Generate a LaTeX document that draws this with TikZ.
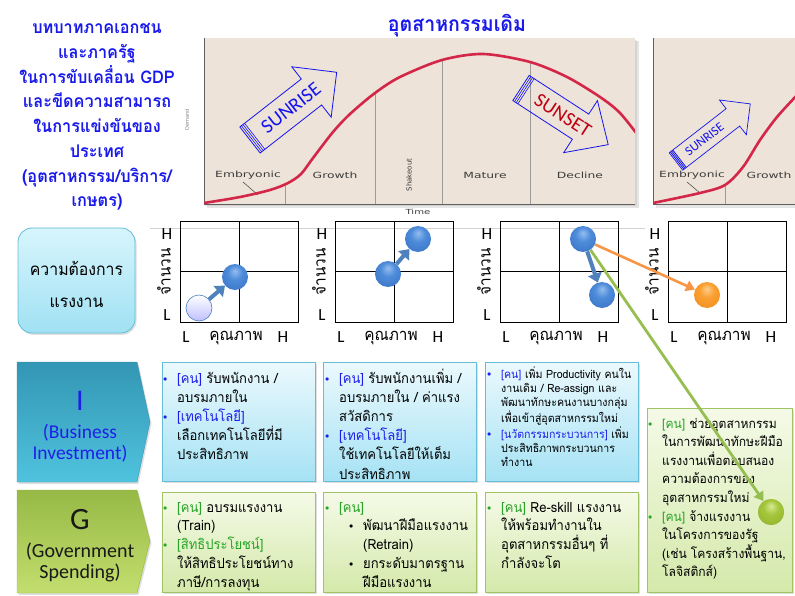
\documentclass[tikz,border=0pt]{standalone}
\usepackage{fontspec}
\setmainfont[Script=Thai,FakeStretch=0.93]{Loma}
\newfontfamily\calfont{Carlito}
\newfontfamily\chartfont[FakeStretch=1.45]{DejaVu Sans}
\newfontfamily\plainsans{DejaVu Sans}
\usetikzlibrary{shadows,arrows.meta,calc}

\definecolor{titleblue}{RGB}{25,25,235}
\definecolor{chartbg}{RGB}{237,227,216}
\definecolor{lifered}{RGB}{212,38,72}
\definecolor{phasegray}{RGB}{155,155,155}
\definecolor{labelgray}{RGB}{60,60,60}
\definecolor{sunblue}{RGB}{20,20,240}
\definecolor{sunred}{RGB}{190,0,20}
\definecolor{arrowblue}{RGB}{79,129,189}
\definecolor{linegreen}{RGB}{150,190,80}
\definecolor{lineorange}{RGB}{247,150,70}
\definecolor{kblue}{RGB}{30,30,235}
\definecolor{kgreen}{RGB}{40,165,40}
\definecolor{iborder}{RGB}{100,190,215}
\definecolor{itop}{RGB}{235,249,253}
\definecolor{ibottom}{RGB}{165,226,244}
\definecolor{gborder}{RGB}{160,195,100}
\definecolor{gtop}{RGB}{245,250,232}
\definecolor{gbottom}{RGB}{212,233,170}
\definecolor{chevItop}{RGB}{50,150,180}
\definecolor{chevIbot}{RGB}{80,195,222}
\definecolor{chevGtop}{RGB}{150,185,70}
\definecolor{chevGbot}{RGB}{195,222,110}
\definecolor{demtop}{RGB}{215,245,252}
\definecolor{dembot}{RGB}{160,225,243}

% glossy spheres: light spot near the top, darker rim
\pgfdeclareradialshading{sphereblue}{\pgfpoint{0bp}{12bp}}{color(0bp)=(rgb,255:red,150;green,190;blue,240); color(14bp)=(rgb,255:red,78;green,140;blue,218); color(42bp)=(rgb,255:red,52;green,108;blue,190); color(52bp)=(rgb,255:red,35;green,80;blue,150)}
\pgfdeclareradialshading{sphereorange}{\pgfpoint{0bp}{12bp}}{color(0bp)=(rgb,255:red,255;green,205;blue,140); color(14bp)=(rgb,255:red,250;green,160;blue,50); color(42bp)=(rgb,255:red,240;green,135;blue,25); color(52bp)=(rgb,255:red,205;green,105;blue,10)}
\pgfdeclareradialshading{spheregreen}{\pgfpoint{0bp}{12bp}}{color(0bp)=(rgb,255:red,215;green,235;blue,150); color(14bp)=(rgb,255:red,165;green,198;blue,60); color(42bp)=(rgb,255:red,140;green,175;blue,40); color(52bp)=(rgb,255:red,105;green,135;blue,25)}

% bullets and indents for the box texts
\newcommand\mkbul[1]{\makebox[14pt][l]{\textcolor{#1}{\raisebox{2pt}{\fontsize{8}{8}\selectfont$\bullet$}}}}
\newcommand\bulI{\mkbul{kblue}}
\newcommand\bulG{\mkbul{kgreen}}
\newcommand\bulK{\mkbul{black}}
\newcommand\indw{\hspace*{14pt}}
\newcommand\kI[1]{\textcolor{kblue}{#1}}
\newcommand\kG[1]{\textcolor{kgreen}{#1}}

\begin{document}
\begin{tikzpicture}[x=1pt,y=-1pt,
  softshadow/.style={drop shadow={shadow xshift=1.5pt,shadow yshift=-1.8pt,opacity=0.25}},
  ibox/.style={draw=iborder,line width=0.8pt,top color=itop,bottom color=ibottom,softshadow,
    anchor=north west,inner sep=0,minimum width=153pt,minimum height=119pt},
  gbox/.style={draw=gborder,line width=0.8pt,top color=gtop,bottom color=gbottom,softshadow,
    anchor=north west,inner sep=0,minimum width=153pt,minimum height=100pt},
  % multi-line texts are placed by the baseline of their last line
  boxtext/.style={anchor=base west,align=left,inner sep=0,font=\fontsize{14}{19.2}\selectfont},
  smalltext/.style={anchor=base west,align=left,inner sep=0,font=\fontsize{11.4}{14.3}\selectfont},
  phase/.style={font=\chartfont\fontsize{8.5}{9}\selectfont,text=labelgray,inner sep=0},
  gridline/.style={draw=black,line width=0.9pt},
  axl/.style={font=\calfont\fontsize{17}{17}\selectfont,inner sep=0},
  axt/.style={font=\fontsize{16.5}{16.5}\selectfont,inner sep=0},
  ball/.style={circle,minimum size=26pt,inner sep=0},
  blueball/.style={ball,shading=sphereblue},
  fatarrow/.style={draw=arrowblue,line width=4pt,-{Triangle[length=9pt,width=14pt]}},
  lifecurve/.style={draw=lifered,line width=2.6pt,line cap=round},
]
\useasboundingbox (0,0) rectangle (795,596);
\fill[white] (0,0) rectangle (795,596);

% ---------- heading on the left ----------
\node[anchor=base,align=center,text=titleblue,inner sep=0,
  font=\bfseries\fontsize{17.5}{24.8}\selectfont] (heading) at (97,207)
  {บทบาทภาคเอกชน\\และภาครัฐ\\ในการขับเคลื่อน GDP\\และขีดความสามารถ\\ในการแข่งขันของ\\ประเทศ\\(อุตสาหกรรม/บริการ/\\เกษตร)};

% ---------- industry life cycle chart ----------
\fill[black,opacity=0.10] (207,41) rectangle (639,208);
\fill[black,opacity=0.08] (205,40) rectangle (637,206);
\fill[chartbg] (204,38) rectangle (635,204);
\draw[phasegray,line width=0.7pt] (285,186) -- (285,204);
\draw[phasegray,line width=0.7pt] (375,93) -- (375,204);
\draw[phasegray,line width=0.7pt] (442,60) -- (442,204);
\draw[phasegray,line width=0.7pt] (530,63) -- (530,204);
\draw[gray!75!black,line width=0.8pt] (204,38) -- (204,204) -- (635,204);
\draw[labelgray,line width=0.5pt] (243,182) -- (258,195);
\begin{scope}
\clip (204,38) rectangle (635,204);
\draw[lifecurve] plot[smooth,tension=0.5] coordinates {(204,203) (240,197) (270,190) (288,183) (301,174) (313,158) (333,132) (350,114) (375,93) (400,77) (442,60) (483,54) (530,62) (567,77) (600,97) (620,113) (640,138)};
\end{scope}
\node[phase] (embryo) at (248,175) {Embryonic};
\node[phase] (growth) at (335,175) {Growth};
\node[phase,font=\plainsans\fontsize{7}{7}\selectfont,rotate=90] (shake) at (409,175) {Shakeout};
\node[phase] (mature) at (485,175) {Mature};
\node[phase] (decline) at (580,175) {Decline};
\node[phase,font=\chartfont\fontsize{7}{7}\selectfont] (timelbl) at (418,212) {Time};
\node[font=\plainsans\fontsize{5}{5}\selectfont,text=gray,rotate=90,inner sep=0] (demandlbl) at (187,120) {Demand};
\node[font=\bfseries\fontsize{21}{24}\selectfont,text=titleblue,inner sep=0] (charttitle) at (457,26) {อุตสาหกรรมเดิม};

% rising block arrow
\begin{scope}[shift={(250,140)},rotate=38]
\draw[sunblue,line width=0.8pt] (0,-16.5) -- (78,-16.5) -- (78,-32) -- (110,0) -- (78,32) -- (78,16.5) -- (0,16.5) -- cycle;
\foreach \u in {2,4,6} \draw[sunblue,line width=0.6pt] (\u,-16.5) -- (\u,16.5);
\node[transform shape,text=sunblue,font=\calfont\fontsize{20}{20}\selectfont,inner sep=0] (sunrise) at (52,0) {SUNRISE};
\end{scope}
% falling block arrow
\begin{scope}[shift={(521,88)},rotate=-33]
\draw[sunblue,line width=0.8pt] (0,-15) -- (71,-15) -- (71,-31) -- (104,0) -- (71,31) -- (71,15) -- (0,15) -- cycle;
\foreach \u in {2,4,6} \draw[sunblue,line width=0.6pt] (\u,-15) -- (\u,15);
\node[transform shape,text=sunred,font=\calfont\fontsize{20}{20}\selectfont,inner sep=0] (sunset) at (50,0) {SUNSET};
\end{scope}

% second life cycle chart (new industry)
\fill[black,opacity=0.10] (656,41) rectangle (795,208);
\fill[chartbg] (653,38) rectangle (795,204);
\draw[phasegray,line width=0.7pt] (725,186) -- (725,204);
\draw[gray!75!black,line width=0.8pt] (653,38) -- (653,204) -- (795,204);
\draw[labelgray,line width=0.5pt] (687,182) -- (700,193);
\begin{scope}
\clip (653,38) rectangle (795,204);
\draw[lifecurve] plot[smooth,tension=0.5] coordinates {(653,203) (700,193) (725,185) (743,167) (760,140) (777,117) (798,94)};
\end{scope}
\node[phase] (embryo2) at (692,175) {Embryonic};
\node[phase] (growth2) at (769,175) {Growth};
\begin{scope}[shift={(676,161.5)},rotate=37.8]
\draw[sunblue,line width=0.7pt] (0,-11) -- (72,-11) -- (72,-22) -- (94,0) -- (72,22) -- (72,11) -- (0,11) -- cycle;
\foreach \u in {1.5,3,4.5} \draw[sunblue,line width=0.8pt] (\u,-11) -- (\u,11);
\node[transform shape,text=sunblue,font=\calfont\fontsize{13}{13}\selectfont,inner sep=0] (sunrise2) at (36,0) {SUNRISE};
\end{scope}

% ---------- labour demand grids ----------
\draw[gray!35,line width=0.5pt] (150,228) -- (645,228);
\node[draw=iborder,line width=0.8pt,rounded corners=14pt,top color=demtop,bottom color=dembot,
  softshadow,minimum width=117pt,minimum height=105pt,inner sep=0] (demandbox) at (76.5,280.5) {};
\node[align=center,font=\fontsize{17}{32}\selectfont,inner sep=0] (demandtxt) at (76.5,284) {ความต้องการ\\แรงงาน};

\foreach \gx/\n in {180/1,335/2,500/3,668/4}{
  \draw[gridline] (\gx,221) rectangle ++(118,101);
  \draw[gridline] (\gx+59,221) -- (\gx+59,322);
  \draw[gridline] (\gx,271.5) -- (\gx+118,271.5);
  \node[axl] (yh\n) at (\gx-13,234) {H};
  \node[axl] (yl\n) at (\gx-13,315) {L};
  \node[axt,rotate=90] (yt\n) at (\gx-16,272) {จำนวน};
  \node[axl] (xl\n) at (\gx+6,337) {L};
  \node[axl] (xh\n) at (\gx+103,337) {H};
  \node[axt] (xt\n) at (\gx+56,338) {คุณภาพ};
}

\node[ball,draw=arrowblue,line width=0.6pt,top color=white,bottom color=blue!25] (b1a) at (199,308) {};
\node[blueball] (b1b) at (235,277) {};
\draw[fatarrow] (b1a) -- (b1b);
\node[blueball] (b2a) at (388,274) {};
\node[blueball] (b2b) at (418,239) {};
\draw[fatarrow] (b2a) -- (b2b);
\node[blueball] (b3a) at (583,239) {};
\node[blueball] (b3b) at (602,295) {};
\draw[fatarrow] (b3a) -- (b3b);
\node[ball,shading=sphereorange] (b4a) at (707,295) {};
\draw[lineorange,line width=2.6pt,-{Triangle[length=9pt,width=11pt]}] (b3a) -- (b4a);

% ---------- I and G chevrons ----------
\shade[top color=chevItop,bottom color=chevIbot,draw=chevItop,line width=0.4pt,softshadow]
  (17,362) -- (137,362) -- (150,422) -- (137,482) -- (17,482) -- cycle;
\node[font=\calfont\fontsize{30}{30}\selectfont,text=kblue,inner sep=0] (bigI) at (80,401) {I};
\node[font=\calfont\fontsize{19.5}{20.5}\selectfont,text=kblue,align=center,inner sep=0] (iname) at (80,443) {(Business\\Investment)};

\shade[top color=chevGtop,bottom color=chevGbot,draw=chevGtop,line width=0.4pt,softshadow]
  (17,490) -- (137,490) -- (150,541) -- (137,593) -- (17,593) -- cycle;
\node[font=\calfont\fontsize{31}{31}\selectfont,text=black!90,inner sep=0] (bigG) at (80,520) {G};
\node[font=\calfont\fontsize{20}{21}\selectfont,text=black!90,align=center,inner sep=0] (gname) at (80,562) {(Government\\Spending)};

% ---------- I row boxes ----------
\node[ibox] (i1) at (162,362) {};
\node[ibox] (i2) at (323,362) {};
\node[ibox] (i3) at (485,362) {};
\node[boxtext] (i1t) at (163,459.8) {\bulI\kI{[คน]} รับพนักงาน /\\\indw อบรมภายใน\\\bulI\kI{[เทคโนโลยี]}\\\indw เลือกเทคโนโลยีที่มี\\\indw ประสิทธิภาพ};
\node[boxtext] (i2t) at (325,479) {\bulI\kI{[คน]} รับพนักงานเพิ่ม /\\\indw อบรมภายใน / ค่าแรง\\\indw สวัสดิการ\\\bulI\kI{[เทคโนโลยี]}\\\indw ใช้เทคโนโลยีให้เต็ม\\\indw ประสิทธิภาพ};
\node[smalltext] (i3t) at (487,466.8) {\bulI\kI{[คน]} เพิ่ม Productivity คนใน\\\indw งานเดิม / Re-assign และ\\\indw พัฒนาทักษะคนงานบางกลุ่ม\\\indw เพื่อเข้าสู่อุตสาหกรรมใหม่\\\bulI\kI{[นวัตกรรมกระบวนการ]} เพิ่ม\\\indw ประสิทธิภาพกระบวนการ\\\indw ทำงาน};

% ---------- G row boxes ----------
\node[gbox] (g1) at (162,492) {};
\node[gbox] (g2) at (323,492) {};
\node[gbox] (g3) at (485,492) {};
\node[gbox,minimum width=145pt,minimum height=184pt] (g4) at (647,408) {};
\node[boxtext,font=\fontsize{14}{18.8}\selectfont] (g1t) at (163,587.2) {\bulG\kG{[คน]} อบรมแรงงาน\\\indw (Train)\\\bulG\kG{[สิทธิประโยชน์]}\\\indw ให้สิทธิประโยชน์ทาง\\\indw ภาษี/การลงทุน};
\node[boxtext,font=\fontsize{14}{18.8}\selectfont] (g2t) at (325,587.2) {\bulG\kG{[คน]}\\\hspace*{24pt}\bulK พัฒนาฝีมือแรงงาน\\\hspace*{38pt}(Retrain)\\\hspace*{24pt}\bulK ยกระดับมาตรฐาน\\\hspace*{38pt}ฝีมือแรงงาน};
\node[boxtext,font=\fontsize{14}{18.8}\selectfont] (g3t) at (487,568.4) {\bulG\kG{[คน]} Re-skill แรงงาน\\\indw ให้พร้อมทำงานใน\\\indw อุตสาหกรรมอื่นๆ ที่\\\indw กำลังจะโต};
\node[boxtext,font=\fontsize{13}{18.6}\selectfont] (g4t) at (648,576.8) {\bulG\kG{[คน]} ช่วยอุตสาหกรรม\\\indw ในการพัฒนาทักษะฝีมือ\\\indw แรงงานเพื่อตอบสนอง\\\indw ความต้องการของ\\\indw อุตสาหกรรมใหม่\\\bulG\kG{[คน]} จ้างแรงงาน\\\indw ในโครงการของรัฐ\\\indw (เช่น โครงสร้างพื้นฐาน,\\\indw โลจิสติกส์)};

% ---------- link from the declining industry to state programmes ----------
\node[ball,shading=spheregreen] (gball) at (771,512) {};
\draw[linegreen,line width=2.8pt,-{Triangle[length=9pt,width=11pt]}] (b3a) -- (gball);
\node[ball,shading=spheregreen] at (gball) {};
\end{tikzpicture}
\end{document}
